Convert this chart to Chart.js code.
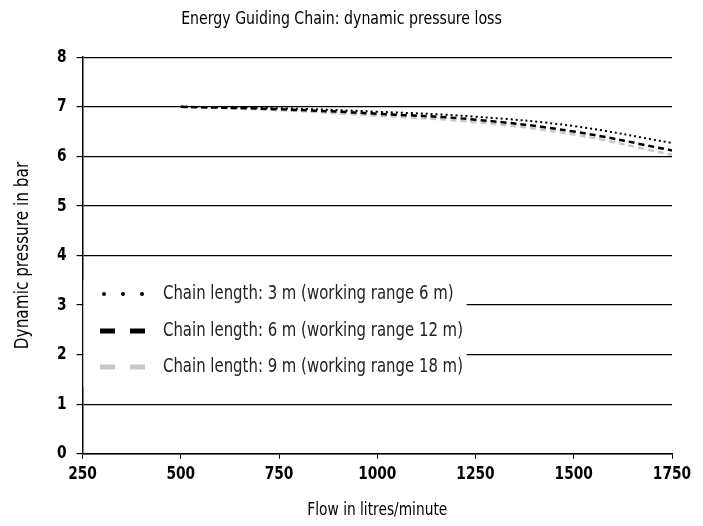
<!DOCTYPE html>
<html>
<head>
<meta charset="utf-8">
<script src="https://cdn.jsdelivr.net/npm/chart.js@4.4.1/dist/chart.umd.min.js"></script>
<style>
  html, body { margin: 0; padding: 0; background: #fff; }
  #wrap { width: 703px; height: 526px; position: relative; }
</style>
</head>
<body>
<div id="wrap"><canvas id="myChart"></canvas></div>
<script>
// values
const flow = [500, 750, 1000, 1250, 1500, 1750];
const chain3m = [7.0, 6.97, 6.90, 6.80, 6.61, 6.27];
const chain6m = [7.0, 6.95, 6.86, 6.74, 6.50, 6.12];
const chain9m = [7.0, 6.93, 6.82, 6.69, 6.44, 6.03];
const labels = [
    'Chain length: 3 m (working range 6 m)',
    'Chain length: 6 m (working range 12 m)',
    'Chain length: 9 m (working range 18 m)'
];
const xTicks = [250, 500, 750, 1000, 1250, 1500, 1750];
const yTicks = [0, 1, 2, 3, 4, 5, 6, 7, 8];

const FONT = "'Liberation Sans Narrow', 'Arial Narrow', 'DejaVu Sans Condensed', sans-serif";
const SQUEEZE = 0.85; // no narrow font installed, so squeeze text horizontally

const pts = (ys) => flow.map((x, i) => ({ x: x, y: ys[i] }));

const canvas = document.getElementById('myChart');
const ctx = canvas.getContext('2d');
const baseFill = CanvasRenderingContext2D.prototype.fillText;
const baseMeasure = CanvasRenderingContext2D.prototype.measureText;
ctx.fillText = function (t, x, y, mw) {
    this.save();
    this.translate(x, y);
    this.scale(SQUEEZE, 1);
    if (mw === undefined || mw === null) baseFill.call(this, t, 0, 0);
    else baseFill.call(this, t, 0, 0, mw / SQUEEZE);
    this.restore();
};
ctx.measureText = function (t) {
    const m = baseMeasure.call(this, t);
    return {
        width: m.width * SQUEEZE,
        actualBoundingBoxAscent: m.actualBoundingBoxAscent,
        actualBoundingBoxDescent: m.actualBoundingBoxDescent,
        actualBoundingBoxLeft: m.actualBoundingBoxLeft * SQUEEZE,
        actualBoundingBoxRight: m.actualBoundingBoxRight * SQUEEZE
    };
};

// legend sits inside the plot, on a white box over the grid
const boxLegend = {
    id: 'boxLegend',
    beforeDatasetsDraw(chart) {
        const c = chart.ctx;
        const ca = chart.chartArea;
        const y0 = chart.scales.y;
        c.save();
        c.fillStyle = '#fff';
        c.fillRect(ca.left + 1, y0.getPixelForValue(3.5), 383, 106);
        const rows = [294, 331, 367];
        chart.data.datasets.forEach((ds, i) => {
            const ry = rows[i];
            c.strokeStyle = ds.borderColor;
            c.lineWidth = i === 0 ? 4 : 5;
            c.lineCap = i === 0 ? 'round' : 'butt';
            c.setLineDash(i === 0 ? [0, 19] : [15, 15]);
            c.beginPath();
            c.moveTo(i === 0 ? 104 : 100, ry);
            c.lineTo(i === 0 ? 145 : 148, ry);
            c.stroke();
            c.setLineDash([]);
            c.fillStyle = '#222';
            c.font = '19.5px ' + FONT;
            c.textAlign = 'left';
            c.textBaseline = 'middle';
            c.fillText(ds.label, 163, ry);
        });
        c.restore();
    }
};

const myChart = new Chart(ctx, {
    type: 'line',
    data: {
        datasets: [
            {
                label: labels[0],
                data: pts(chain3m),
                borderColor: '#000',
                borderWidth: 2,
                borderDash: [2, 3],
                pointRadius: 0,
                tension: 0.4,
                order: 1
            },
            {
                label: labels[1],
                data: pts(chain6m),
                borderColor: '#000',
                borderWidth: 2.5,
                borderDash: [6, 4],
                pointRadius: 0,
                tension: 0.4,
                order: 2
            },
            {
                label: labels[2],
                data: pts(chain9m),
                borderColor: '#c8c8c8',
                borderWidth: 2.5,
                borderDash: [6, 4],
                pointRadius: 0,
                tension: 0.4,
                order: 3
            }
        ]
    },
    options: {
        responsive: true,
        maintainAspectRatio: false,
        animation: false,
        layout: { padding: { top: 5, right: 31, bottom: 5, left: 11 } },
        plugins: {
            legend: { display: false },
            tooltip: { enabled: false },
            title: {
                display: true,
                text: 'Energy Guiding Chain: dynamic pressure loss',
                color: '#000',
                font: { family: FONT, size: 18.5, weight: '500' },
                padding: { top: 3, bottom: 27 }
            }
        },
        scales: {
            x: {
                type: 'linear',
                min: 250,
                max: 1750,
                afterBuildTicks: (s) => { s.ticks = xTicks.map(v => ({ value: v })); },
                grid: { drawOnChartArea: false, drawTicks: true, tickLength: 5, color: '#000' },
                border: { color: '#000', width: 1.5 },
                ticks: {
                    color: '#000', padding: 5, maxRotation: 0,
                    font: { family: FONT, size: 18, weight: 'bold' },
                    callback: (v) => String(v)
                },
                title: {
                    display: true,
                    text: 'Flow in litres/minute',
                    color: '#000',
                    font: { family: FONT, size: 18 },
                    padding: { top: 9, bottom: 0 }
                }
            },
            y: {
                min: 0,
                max: 8,
                afterBuildTicks: (s) => { s.ticks = yTicks.map(v => ({ value: v })); },
                grid: { color: '#000', lineWidth: 1.2, tickLength: 6 },
                border: { color: '#000', width: 1.5 },
                ticks: { color: '#000', padding: 10, font: { family: FONT, size: 18, weight: 'bold' } },
                title: {
                    display: true,
                    text: 'Dynamic pressure in bar',
                    color: '#000',
                    font: { family: FONT, size: 20 },
                    padding: { top: 0, bottom: 12 }
                }
            }
        }
    },
    plugins: [boxLegend]
});
</script>
</body>
</html>
